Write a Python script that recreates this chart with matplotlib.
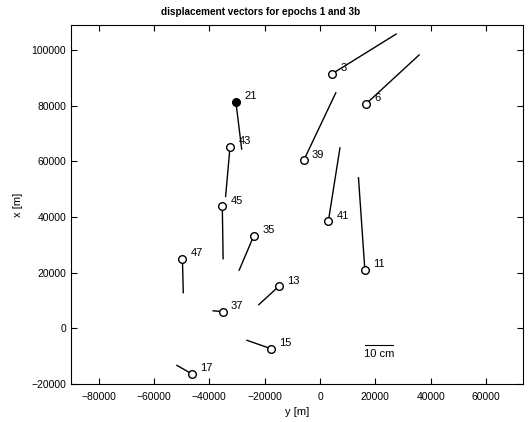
import matplotlib
matplotlib.use("Agg")
import matplotlib.pyplot as plt
import numpy as np

# station positions [m] (horizontal axis is y, vertical axis is x)
station_ids = ["3", "6", "21", "43", "45", "35", "47", "13", "37", "15", "17", "39", "41", "11"]
station_y = [4300, 16600, -30400, -32500, -35300, -23900, -49700, -14900, -35200, -17700, -46200, -5900, 3000, 16200]
station_x = [91400, 80600, 81400, 65300, 43800, 33300, 25000, 15100, 6000, -7300, -16400, 60300, 38400, 21000]

# displacements between epochs [cm]
disp_y = [23.2, 19.2, 2.1, -1.6, 0.3, -5.3, 0.3, -7.2, -3.4, -8.7, -5.5, 11.6, 4.2, -2.3]
disp_x = [14.3, 17.6, -17.0, -17.9, -18.8, -12.4, -12.2, -6.6, 0.3, 3.0, 3.1, 24.3, 26.4, 33.1]

# fixed (reference) station
fixed_ids = ["21"]

SCALE = 1000.0  # metres of plot per cm of displacement
BAR_CM = 10

plt.rcParams["font.family"] = ["Liberation Sans", "DejaVu Sans"]

fig = plt.figure(figsize=(5.29, 4.22), dpi=100)
ax = fig.add_axes([0.134, 0.090, 0.855, 0.851])

for sid, sy, sx, dy, dx in zip(station_ids, station_y, station_x, disp_y, disp_x):
    ax.plot([sy, sy + dy * SCALE], [sx, sx + dx * SCALE], color="black", lw=1.0)
    filled = sid in fixed_ids
    ax.plot(sy, sx, marker="o", ms=5.5, mec="black", mew=1.0,
            mfc="black" if filled else "white", ls="none")
    ax.annotate(sid, (sy, sx), xytext=(6, 4), textcoords="offset points",
                fontsize=8, ha="left", va="center")

# scale bar
bar_x0 = 16300
bar_y = -6100
ax.plot([bar_x0, bar_x0 + BAR_CM * SCALE], [bar_y, bar_y], color="black", lw=0.8)
ax.text(bar_x0 + BAR_CM * SCALE / 2, bar_y - 1200, f"{BAR_CM} cm", fontsize=8,
        ha="center", va="top")

ax.set_xlim(-90000, 73400)
ax.set_ylim(-20000, 109000)
ax.set_xticks(np.arange(-80000, 60001, 20000))
ax.set_yticks(np.arange(-20000, 100001, 20000))
ax.tick_params(direction="in", top=True, right=True, labelsize=7.5, length=4)
ax.tick_params(axis="x", pad=6)

ax.set_xlabel("y [m]", fontsize=8, labelpad=3)
ax.set_ylabel("x [m]", fontsize=8, labelpad=6)
ax.set_title("displacement vectors for epochs 1 and 3b", fontsize=7.2,
             fontweight="bold", x=0.42, pad=7)

fig.savefig("out.png", dpi=100)
